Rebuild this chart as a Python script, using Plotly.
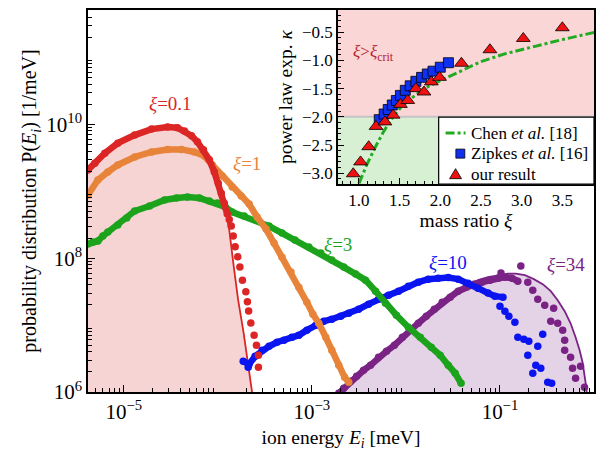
import numpy as np
import plotly.graph_objects as go

# ---------------- main panel data: log10(E_i/meV), log10(P/(1/meV)) ----------------
xi01_logE = [-5.381, -5.307, -5.201, -5.063, -4.884, -4.704, -4.534, -4.429, -4.354, -4.280,
             -4.217, -4.153, -4.090, -4.037, -3.995, -3.963, -3.931, -3.899]
xi01_logP = [9.32, 9.42, 9.57, 9.72, 9.84, 9.93, 9.96, 9.95, 9.90, 9.83,
             9.74, 9.62, 9.47, 9.29, 9.12, 8.97, 8.82, 8.66]
xi01_tail_logE = [-3.878, -3.857, -3.836, -3.815, -3.788, -3.765, -3.738, -3.702, -3.685,
                  -3.672, -3.649, -3.614, -3.589, -3.568, -3.568]
xi01_tail_logP = [8.58, 8.48, 8.33, 8.17, 8.02, 7.87, 7.67, 7.50, 7.35,
                  7.21, 7.03, 6.85, 6.70, 6.55, 6.37]
xi01_fit_logE = [-5.381, -5.307, -5.201, -5.063, -4.884, -4.704, -4.534, -4.429, -4.354, -4.280,
                 -4.217, -4.153, -4.090, -4.037, -3.995, -3.963, -3.931, -3.878, -3.831, -3.783,
                 -3.725, -3.677, -3.632, -3.624]
xi01_fit_logP = [9.32, 9.42, 9.57, 9.72, 9.84, 9.93, 9.96, 9.95, 9.90, 9.83,
                 9.74, 9.62, 9.47, 9.29, 9.12, 8.97, 8.82, 8.42, 7.88, 7.37,
                 6.88, 6.44, 6.03, 5.88]

xi1_logE = [-5.381, -5.275, -5.169, -5.063, -4.884, -4.704, -4.534, -4.386, -4.249, -4.143,
            -4.058, -3.952, -3.847, -3.751, -3.667, -3.582, -3.487, -3.402, -3.317, -3.222,
            -3.138, -3.053, -2.989, -2.926, -2.852, -2.788, -2.714, -2.651, -2.608]
xi1_logP = [8.945, 9.169, 9.289, 9.394, 9.513, 9.588, 9.626, 9.626, 9.588, 9.528,
            9.394, 9.229, 9.064, 8.930, 8.810, 8.615, 8.436, 8.226, 8.016, 7.792,
            7.567, 7.343, 7.163, 7.028, 6.819, 6.624, 6.400, 6.220, 6.145]

xi3_logE = [-5.381, -5.328, -5.275, -5.222, -5.169, -5.063, -4.968, -4.884, -4.725, -4.566,
            -4.439, -4.323, -4.196, -4.090, -4.005, -3.921, -3.847, -3.720, -3.593, -3.455,
            -3.317, -3.180, -3.032, -2.905, -2.788, -2.661, -2.534, -2.429, -2.323, -2.217,
            -2.101, -1.974, -1.847, -1.730, -1.635, -1.550, -1.476, -1.413]
xi3_logP = [8.211, 8.241, 8.256, 8.331, 8.391, 8.496, 8.600, 8.705, 8.780, 8.870,
            8.900, 8.915, 8.900, 8.855, 8.825, 8.765, 8.690, 8.630, 8.570, 8.480,
            8.376, 8.271, 8.166, 8.076, 7.972, 7.867, 7.762, 7.672, 7.507, 7.328,
            7.148, 6.968, 6.819, 6.669, 6.549, 6.400, 6.280, 6.130]

xi10_logE = [-3.730, -3.667, -3.603, -3.529, -3.455, -3.370, -3.296, -3.212, -3.138, -3.053,
             -2.958, -2.873, -2.788, -2.693, -2.608, -2.503, -2.397, -2.291, -2.185, -2.079,
             -1.974, -1.868, -1.762, -1.656, -1.550, -1.444, -1.339, -1.233, -1.127, -1.053,
             -0.968]
xi10_logP = [6.460, 6.415, 6.534, 6.624, 6.684, 6.744, 6.774, 6.819, 6.849, 6.924,
             6.999, 7.058, 7.088, 7.133, 7.178, 7.238, 7.313, 7.388, 7.448, 7.507,
             7.582, 7.642, 7.687, 7.702, 7.710, 7.687, 7.627, 7.552, 7.478, 7.433,
             7.418]
xi10_tail_logE = [-3.677, -1.000, -0.947, -0.905, -0.841, -0.810, -0.746, -0.693, -0.598,
                  -0.545, -0.704, -0.619, -0.566, -0.651, -0.492, -0.450]
xi10_tail_logP = [6.370, 7.283, 7.208, 7.133, 7.043, 6.819, 6.789, 6.759, 6.684,
                  6.864, 6.549, 6.400, 6.355, 6.280, 6.145, 6.130]

xi34_logE = [-2.714, -2.661, -2.587, -2.524, -2.450, -2.376, -2.291, -2.206, -2.122, -2.037,
             -1.952, -1.868, -1.783, -1.698, -1.614, -1.529, -1.444, -1.360, -1.275, -1.190,
             -1.106, -1.021, -0.947, -0.873, -0.810]
xi34_logP = [5.981, 6.055, 6.160, 6.235, 6.325, 6.400, 6.519, 6.609, 6.699, 6.819,
             6.924, 7.028, 7.133, 7.238, 7.343, 7.418, 7.507, 7.567, 7.612, 7.642,
             7.672, 7.702, 7.717, 7.702, 7.657]
xi34_tail_logE = [-0.989, -0.778, -0.704, -0.651, -0.598, -0.524, -0.429, -0.460, -0.386,
                  -0.333, -0.312, -0.312, -0.249, -0.228, -0.143, -0.196, -0.101]
xi34_tail_logP = [7.777, 7.882, 7.642, 7.522, 7.388, 7.298, 7.253, 7.058, 7.028,
                  6.924, 6.774, 6.624, 6.519, 6.355, 6.385, 6.205, 6.070]
xi34_fit_logE = [-2.746, -2.683, -2.577, -2.429, -2.291, -2.185, -2.079, -1.974, -1.868, -1.762,
                 -1.656, -1.550, -1.444, -1.339, -1.233, -1.127, -1.021, -0.915, -0.831, -0.735,
                 -0.640, -0.545, -0.460, -0.386, -0.312, -0.249, -0.196, -0.153, -0.122, -0.101,
                 -0.085, -0.074]
xi34_fit_logP = [5.876, 6.025, 6.205, 6.355, 6.519, 6.624, 6.744, 6.894, 7.028, 7.163,
                 7.313, 7.418, 7.522, 7.597, 7.672, 7.717, 7.747, 7.769, 7.769, 7.747,
                 7.687, 7.612, 7.507, 7.373, 7.208, 7.028, 6.819, 6.624, 6.445, 6.280,
                 6.100, 5.951]

# ---------------- inset data ----------------
chen_xi = [1.0, 1.1, 1.2, 1.3, 1.4, 1.5, 1.6, 1.8, 2.0, 2.2, 2.5, 2.8, 3.1, 3.5, 3.9]
chen_kappa = [-3.18, -2.84, -2.54, -2.27, -2.04, -1.86, -1.72, -1.50, -1.36, -1.22,
              -1.02, -0.88, -0.77, -0.63, -0.50]
zipkes_xi = [1.25, 1.31, 1.36, 1.41, 1.46, 1.51, 1.57, 1.63, 1.70, 1.77, 1.84, 1.91, 2.00, 2.10]
zipkes_kappa = [-2.05, -1.95, -1.87, -1.79, -1.71, -1.62, -1.53, -1.45, -1.37, -1.30,
                -1.24, -1.19, -1.12, -1.04]
ours_xi = [0.93, 1.02, 1.12, 1.21, 1.32, 1.42, 1.51, 1.60, 1.70, 1.80, 1.89, 1.99, 2.26,
           2.61, 3.02, 3.50]
ours_kappa = [-3.01, -2.80, -2.53, -2.17, -2.09, -1.97, -1.78, -1.71, -1.50, -1.56, -1.38,
              -1.30, -1.05, -0.81, -0.61, -0.42]
kappa_crit = -2.0

legend_names = ['Chen <i>et al.</i> [18]', 'Zipkes <i>et al.</i> [16]', 'our result']

x_labeled = [-5, -3, -1]
x_labeled_text = ['10<sup>−5</sup>', '10<sup>−3</sup>', '10<sup>−1</sup>']
x_decades = [-5, -4, -3, -2, -1, 0]
y_labeled = [6, 8, 10]
y_labeled_text = ['10<sup>6</sup>', '10<sup>8</sup>', '10<sup>10</sup>']
y_decades = [6, 7, 8, 9, 10, 11]

# ---------------- styles ----------------
RED, ORANGE, GREEN, BLUE, PURPLE = '#dc2626', '#e8843a', '#1ca31c', '#0a14f0', '#7a2385'
CHEN_C, ZIP_C, OURS_C = '#22aa22', '#1030f0', '#ee1111'
FONT = 'Liberation Serif'
XR = [-5.38, 0.0]
YR = [6.0, 11.71]
IX = [0.743, 3.889]
IY = [-3.195, -0.105]

def p10(a):
    return list(10.0 ** np.asarray(a, dtype=float))

fig = go.Figure()

floor = 10.0 ** (YR[0] - 1)
fig.add_trace(go.Scatter(x=p10(xi01_fit_logE) + [10 ** xi01_fit_logE[-1], 10 ** xi01_fit_logE[0]],
                         y=p10(xi01_fit_logP) + [floor, floor], fill='toself',
                         fillcolor='rgba(220,60,60,0.22)', line=dict(width=0), mode='lines',
                         showlegend=False, hoverinfo='skip'))
fig.add_trace(go.Scatter(x=p10(xi34_fit_logE) + [10 ** xi34_fit_logE[-1], 10 ** xi34_fit_logE[0]],
                         y=p10(xi34_fit_logP) + [floor, floor], fill='toself',
                         fillcolor='rgba(122,35,133,0.2)', line=dict(width=0), mode='lines',
                         showlegend=False, hoverinfo='skip'))
fig.add_trace(go.Scatter(x=p10(xi01_fit_logE), y=p10(xi01_fit_logP), mode='lines',
                         line=dict(color=RED, width=1.8), showlegend=False))
fig.add_trace(go.Scatter(x=p10(xi34_fit_logE), y=p10(xi34_fit_logP), mode='lines',
                         line=dict(color=PURPLE, width=1.8), showlegend=False))

def band(lx, ly, color):
    fig.add_trace(go.Scatter(x=p10(lx), y=p10(ly), mode='lines+markers',
                             line=dict(color=color, width=6.5),
                             marker=dict(color=color, size=7.5, line=dict(width=0)),
                             showlegend=False))

def dots(lx, ly, color):
    fig.add_trace(go.Scatter(x=p10(lx), y=p10(ly), mode='markers',
                             marker=dict(color=color, size=7.5, line=dict(width=0)),
                             showlegend=False))

band(xi34_logE, xi34_logP, PURPLE)
dots(xi34_tail_logE, xi34_tail_logP, PURPLE)
band(xi10_logE, xi10_logP, BLUE)
dots(xi10_tail_logE, xi10_tail_logP, BLUE)
band(xi3_logE, xi3_logP, GREEN)
band(xi1_logE, xi1_logP, ORANGE)
band(xi01_logE, xi01_logP, RED)
dots(xi01_tail_logE, xi01_tail_logP, RED)

# inset traces
fig.add_trace(go.Scatter(x=chen_xi, y=chen_kappa, mode='lines', xaxis='x2', yaxis='y2',
                         line=dict(color=CHEN_C, width=3, dash='dashdot'),
                         name=legend_names[0], showlegend=False))
fig.add_trace(go.Scatter(x=zipkes_xi, y=zipkes_kappa, mode='markers', xaxis='x2', yaxis='y2',
                         marker=dict(symbol='square', size=10, color=ZIP_C,
                                     line=dict(color='black', width=0.8)),
                         name=legend_names[1], showlegend=False))
fig.add_trace(go.Scatter(x=ours_xi, y=ours_kappa, mode='markers', xaxis='x2', yaxis='y2',
                         marker=dict(symbol='triangle-up', size=12, color=OURS_C,
                                     line=dict(color='black', width=0.8)),
                         name=legend_names[2], showlegend=False))

# ---------------- annotations ----------------
labels = [('<i>ξ</i>=0.1', -4.503, 10.31, RED), ('<i>ξ</i>=1', -3.69, 9.42, ORANGE),
          ('<i>ξ</i>=3', -2.725, 8.21, GREEN), ('<i>ξ</i>=10', -1.55, 7.94, BLUE),
          ('<i>ξ</i>=34', -0.30, 7.90, PURPLE)]
ann = []
for t, lx, ly, c in labels:
    ann.append(dict(text=t, x=lx, y=ly, xref='x', yref='y', showarrow=False,
                    font=dict(family=FONT, size=19, color=c)))
ann.append(dict(text='<i>ξ</i>><i>ξ</i><sub>crit</sub>', x=1.18, y=-0.86, xref='x2', yref='y2',
                showarrow=False, font=dict(family=FONT, size=17, color='#b5222a')))

# hand-built legend box (paper coordinates of the plot area)
LEG = dict(x0=0.693, x1=1.0, y0=0.544, y1=0.7197)
leg_text_x = 0.752
leg_rows_y = [0.6778, 0.6240, 0.5703]
for name, yy in zip(legend_names, leg_rows_y):
    ann.append(dict(text=name, x=leg_text_x, y=yy, xref='paper', yref='paper', xanchor='left',
                    yanchor='middle', showarrow=False, font=dict(family=FONT, size=17, color='black')))

shapes = [
    dict(type='rect', xref='x2', yref='y2', x0=IX[0], x1=IX[1], y0=kappa_crit, y1=IY[1],
         fillcolor='#fbd6d7', line=dict(width=0), layer='below'),
    dict(type='rect', xref='x2', yref='y2', x0=IX[0], x1=IX[1], y0=IY[0], y1=kappa_crit,
         fillcolor='#d7f0d3', line=dict(width=0), layer='below'),
    dict(type='line', xref='x2', yref='y2', x0=IX[0], x1=IX[1], y0=kappa_crit, y1=kappa_crit,
         line=dict(color='#c4c4c4', width=2), layer='below'),
    dict(type='rect', xref='paper', yref='paper', **LEG, fillcolor='white',
         line=dict(color='black', width=1.2), layer='above'),
    dict(type='line', xref='paper', yref='paper', x0=0.7067, x1=0.7461,
         y0=leg_rows_y[0], y1=leg_rows_y[0], line=dict(color=CHEN_C, width=3, dash='dashdot')),
    dict(type='rect', xref='paper', yref='paper', x0=0.7270, x1=0.7447,
         y0=leg_rows_y[1] - 0.0118, y1=leg_rows_y[1] + 0.0118, fillcolor=ZIP_C,
         line=dict(color='black', width=0.8)),
    dict(type='path', xref='paper', yref='paper',
         path=f'M 0.7146,{leg_rows_y[2] - 0.0118} L 0.7382,{leg_rows_y[2] - 0.0118} '
              f'L 0.7264,{leg_rows_y[2] + 0.0144} Z',
         fillcolor=OURS_C, line=dict(color='black', width=0.8)),
]

axis_common = dict(showline=True, linecolor='black', linewidth=1.5, mirror=True,
                   showgrid=False, zeroline=False, ticks='inside', tickcolor='black',
                   tickwidth=1.2)

fig.update_layout(
    width=600, height=451,
    margin=dict(l=88, r=4, t=10, b=59),
    paper_bgcolor='white', plot_bgcolor='white',
    font=dict(family=FONT, color='black', size=17),
    shapes=shapes, annotations=ann, showlegend=False,
    xaxis=dict(type='log', range=XR, domain=[0, 1],
               tickmode='array', tickvals=[10.0 ** e for e in x_labeled],
               ticktext=x_labeled_text, ticklen=7, tickfont=dict(size=21),
               minor=dict(tickmode='array',
                          tickvals=[m * 10.0 ** e for e in range(-6, 0) for m in range(2, 10)],
                          ticks='inside', ticklen=4, tickwidth=1, tickcolor='black'),
               title=dict(text='ion energy <i>E<sub>i</sub></i> [meV]', font=dict(size=19.5),
                          standoff=8),
               **axis_common),
    yaxis=dict(type='log', range=YR, domain=[0, 1],
               tickmode='array', tickvals=[10.0 ** e for e in y_labeled],
               ticktext=y_labeled_text, ticklen=7, tickfont=dict(size=21),
               minor=dict(tickmode='array',
                          tickvals=[m * 10.0 ** e for e in range(6, 12) for m in range(2, 10)],
                          ticks='inside', ticklen=4, tickwidth=1, tickcolor='black'),
               title=dict(text='probability distribution P(<i>E<sub>i</sub></i>) [1/meV]',
                          font=dict(size=20), standoff=4),
               **axis_common),
    # unlabeled decade ticks (same length as labeled ones)
    xaxis3=dict(type='log', range=XR, overlaying='x', anchor='y', side='bottom',
                tickmode='array', tickvals=[10.0 ** e for e in x_decades],
                showticklabels=False, ticks='inside', ticklen=7, tickwidth=1.2,
                tickcolor='black', showgrid=False, zeroline=False, showline=False),
    yaxis3=dict(type='log', range=YR, overlaying='y', anchor='x', side='left',
                tickmode='array', tickvals=[10.0 ** e for e in y_decades],
                showticklabels=False, ticks='inside', ticklen=7, tickwidth=1.2,
                tickcolor='black', showgrid=False, zeroline=False, showline=False),
    xaxis2=dict(anchor='y2', domain=[0.4941, 1.0], range=IX, tick0=1.0, dtick=0.5,
                tickformat='.1f', ticklen=6, tickfont=dict(size=17),
                minor=dict(dtick=0.1, ticks='inside', ticklen=3, tickcolor='black'),
                title=dict(text='mass ratio <i>ξ</i>', font=dict(size=19.5), standoff=4),
                **axis_common),
    yaxis2=dict(anchor='x2', domain=[0.544, 1.0], range=IY, tick0=-3.0, dtick=0.5,
                tickformat='.1f', ticklen=6, tickfont=dict(size=17),
                minor=dict(dtick=0.1, ticks='inside', ticklen=3, tickcolor='black'),
                title=dict(text='power law exp. <i>κ</i>', font=dict(size=19.5), standoff=4),
                **axis_common),
)

fig.write_html('out.html')
